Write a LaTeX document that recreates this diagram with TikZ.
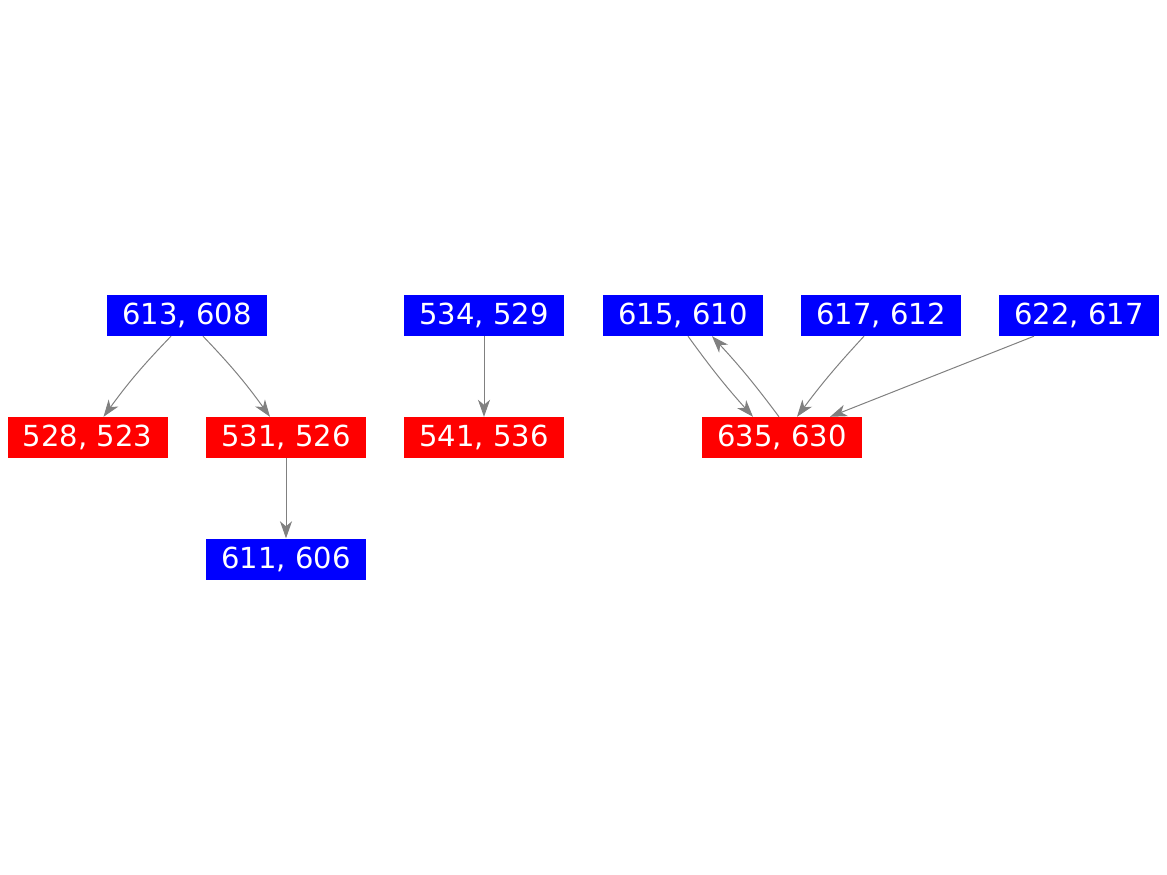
\documentclass[tikz,border=0pt]{standalone}
\usepackage{fontspec}
\setmainfont{DejaVu Sans}
\usetikzlibrary{arrows.meta}
\definecolor{bbox}{RGB}{0,0,255}
\definecolor{rbox}{RGB}{255,0,0}
\definecolor{edgegray}{RGB}{128,128,128}
\begin{document}
\begin{tikzpicture}[x=1pt,y=-1pt,
  boxb/.style={fill=bbox,text=white,minimum width=160pt,minimum height=41pt,inner sep=0pt,font=\fontsize{29}{32}\selectfont},
  boxr/.style={boxb,fill=rbox},
  edge/.style={draw=edgegray,line width=1pt,-{Stealth[length=17pt,width=12pt,inset=5pt]}}]
\useasboundingbox (0,0) rectangle (1167,875);
\node[boxb] (n613) at (187,315.5) {613, 608};
\node[boxr] (n528) at (87.5,437.5) {528, 523};
\node[boxr] (n531) at (286,437.5) {531, 526};
\node[boxb] (n611) at (286,559) {611, 606};
\node[boxb] (n534) at (484,315.5) {534, 529};
\node[boxr] (n541) at (484,437.5) {541, 536};
\node[boxb] (n615) at (683,315.5) {615, 610};
\node[boxb] (n617) at (881,315.5) {617, 612};
\node[boxb] (n622) at (1079,315.5) {622, 617};
\node[boxr] (n635) at (782,437.5) {635, 630};
\draw[edge] ([xshift=-16pt]n613.south) to[bend right=4] ([xshift=16pt]n528.north);
\draw[edge] ([xshift=16pt]n613.south) to[bend left=4] ([xshift=-16pt]n531.north);
\draw[edge] (n531) -- (n611);
\draw[edge] (n534) -- (n541);
\draw[edge] ([xshift=5pt]n615.south) to[bend right=3] ([xshift=-29pt]n635.north);
\draw[edge] ([xshift=-3pt]n635.north) to[bend right=3] ([xshift=29pt]n615.south);
\draw[edge] ([xshift=-17pt]n617.south) to[bend right=3] ([xshift=15pt]n635.north);
\draw[edge] ([xshift=-45pt]n622.south) -- ([xshift=48pt]n635.north);
\end{tikzpicture}
\end{document}
